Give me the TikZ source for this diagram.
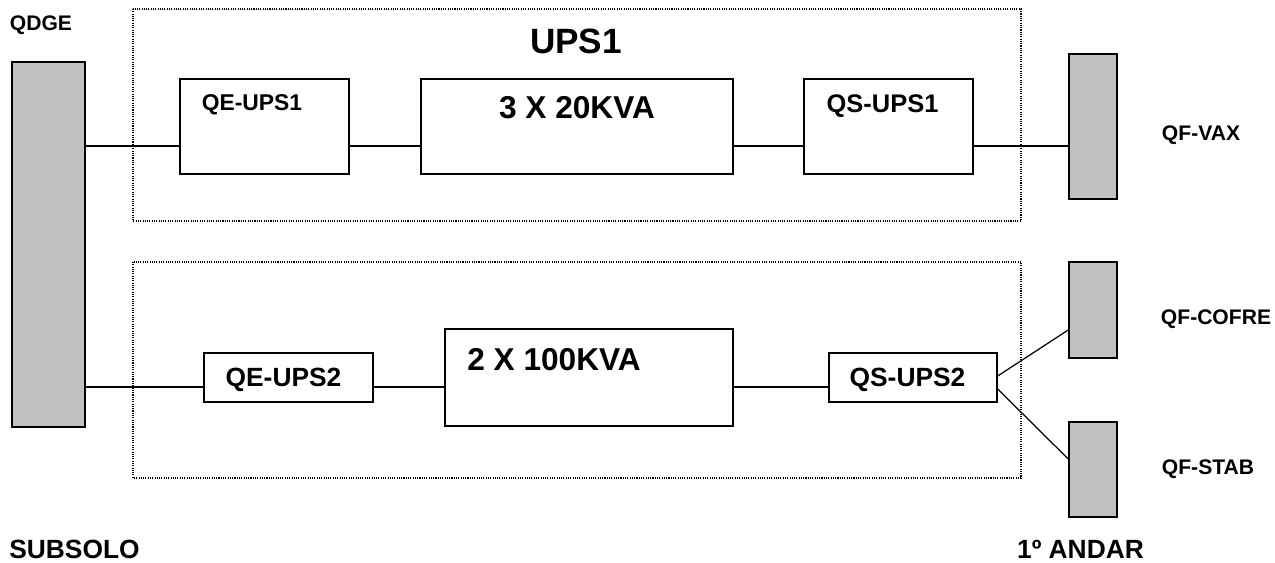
\documentclass[tikz,border=0pt]{standalone}
\usepackage{fontspec}
\setmainfont{Liberation Sans}
\usepackage{tikz}
\usetikzlibrary{positioning,calc}
\definecolor{barfill}{HTML}{C0C0C0}

\begin{document}
\begin{tikzpicture}[
        x=0.02cm, y=-0.02cm,
        panel/.style={rectangle, draw=black, fill=barfill, line width=0.9pt,
          inner sep=0pt},
        unitbox/.style={rectangle, draw=black, fill=white, line width=0.8pt,
          inner sep=0pt},
        frame/.style={line width=0.6pt, dash pattern=on 0.6pt off 0.7pt},
        feeder/.style={line width=0.7pt},
        txt/.style={inner sep=0pt, font=\bfseries\fontsize{#1}{#1}\selectfont},
      ]
      \useasboundingbox (0,0) rectangle (1275,563);

      % UPS groups (dotted outlines)
      \draw[frame] (133,9) rectangle (1021,221);
      \draw[frame] (133,262) rectangle (1021,478);

      % main board and floor boards
      \node[panel, minimum width=1.46cm, minimum height=7.3cm] (qdge) at (48.5,244.5) {};
      \node[panel, minimum width=0.96cm, minimum height=2.9cm] (qfvax) at (1093,126.5) {};
      \node[panel, minimum width=0.96cm, minimum height=1.92cm] (qfcofre) at (1093,310) {};
      \node[panel, minimum width=0.96cm, minimum height=1.9cm] (qfstab) at (1093,469.5) {};

      % UPS1 chain
      \node[unitbox, minimum width=3.38cm, minimum height=1.9cm] (qe1) at (264.5,126.5) {};
      \node[unitbox, minimum width=6.24cm, minimum height=1.9cm] (ups1) at (577,126.5) {};
      \node[unitbox, minimum width=3.38cm, minimum height=1.9cm] (qs1) at (888.5,126.5) {};

      % UPS2 chain
      \node[unitbox, minimum width=3.38cm, minimum height=0.98cm] (qe2) at (288.5,377.5) {};
      \node[unitbox, minimum width=5.76cm, minimum height=1.94cm] (ups2) at (589,377.5) {};
      \node[unitbox, minimum width=3.36cm, minimum height=0.98cm] (qs2) at (913,377.5) {};

      \coordinate (feed1) at (0,146);
      \coordinate (feed2) at (0,387);

      \draw[feeder] (qdge.east |- feed1) -- (qe1.west |- feed1);
      \draw[feeder] (qe1.east |- feed1) -- (ups1.west |- feed1);
      \draw[feeder] (ups1.east |- feed1) -- (qs1.west |- feed1);
      \draw[feeder] (qs1.east |- feed1) -- (qfvax.west |- feed1);

      \draw[feeder] (qdge.east |- feed2) -- (qe2.west |- feed2);
      \draw[feeder] (qe2.east |- feed2) -- (ups2.west |- feed2);
      \draw[feeder] (ups2.east |- feed2) -- (qs2.west |- feed2);
      \draw[feeder] ([yshift=0.03cm]qs2.east) -- ([yshift=-0.4cm]qfcofre.west);
      \draw[feeder] ([yshift=-0.23cm]qs2.east) -- ([yshift=0.21cm]qfstab.west);

      % texts
      \node[txt=12pt] (qdgetxt) at (41,25) {QDGE};
      \node[txt=20pt] (ups1title) at (576,41.5) {UPS1};
      \node[txt=13pt] (qe1txt) at (252,105) {QE-UPS1};
      \node[txt=18pt] (ups1txt) at (577,108) {3 X 20KVA};
      \node[txt=14.5pt] (qs1txt) at (882.5,106) {QS-UPS1};
      \node[txt=12pt] (qfvaxtxt) at (1201,135.5) {QF-VAX};
      \node[txt=15pt] (qe2txt) at (283.5,380) {QE-UPS2};
      \node[txt=18pt] (ups2txt) at (554,360) {2 X 100KVA};
      \node[txt=15pt] (qs2txt) at (907.5,380) {QS-UPS2};
      \node[txt=12pt] (qfcofretxt) at (1216,319) {QF-COFRE};
      \node[txt=12pt] (qfstabtxt) at (1208,469) {QF-STAB};
      \node[txt=15pt] (subsolo) at (74.5,549.5) {SUBSOLO};
      \node[txt=15pt] (andar) at (1080.5,549.5) {1º ANDAR};
    \end{tikzpicture}
\end{document}
